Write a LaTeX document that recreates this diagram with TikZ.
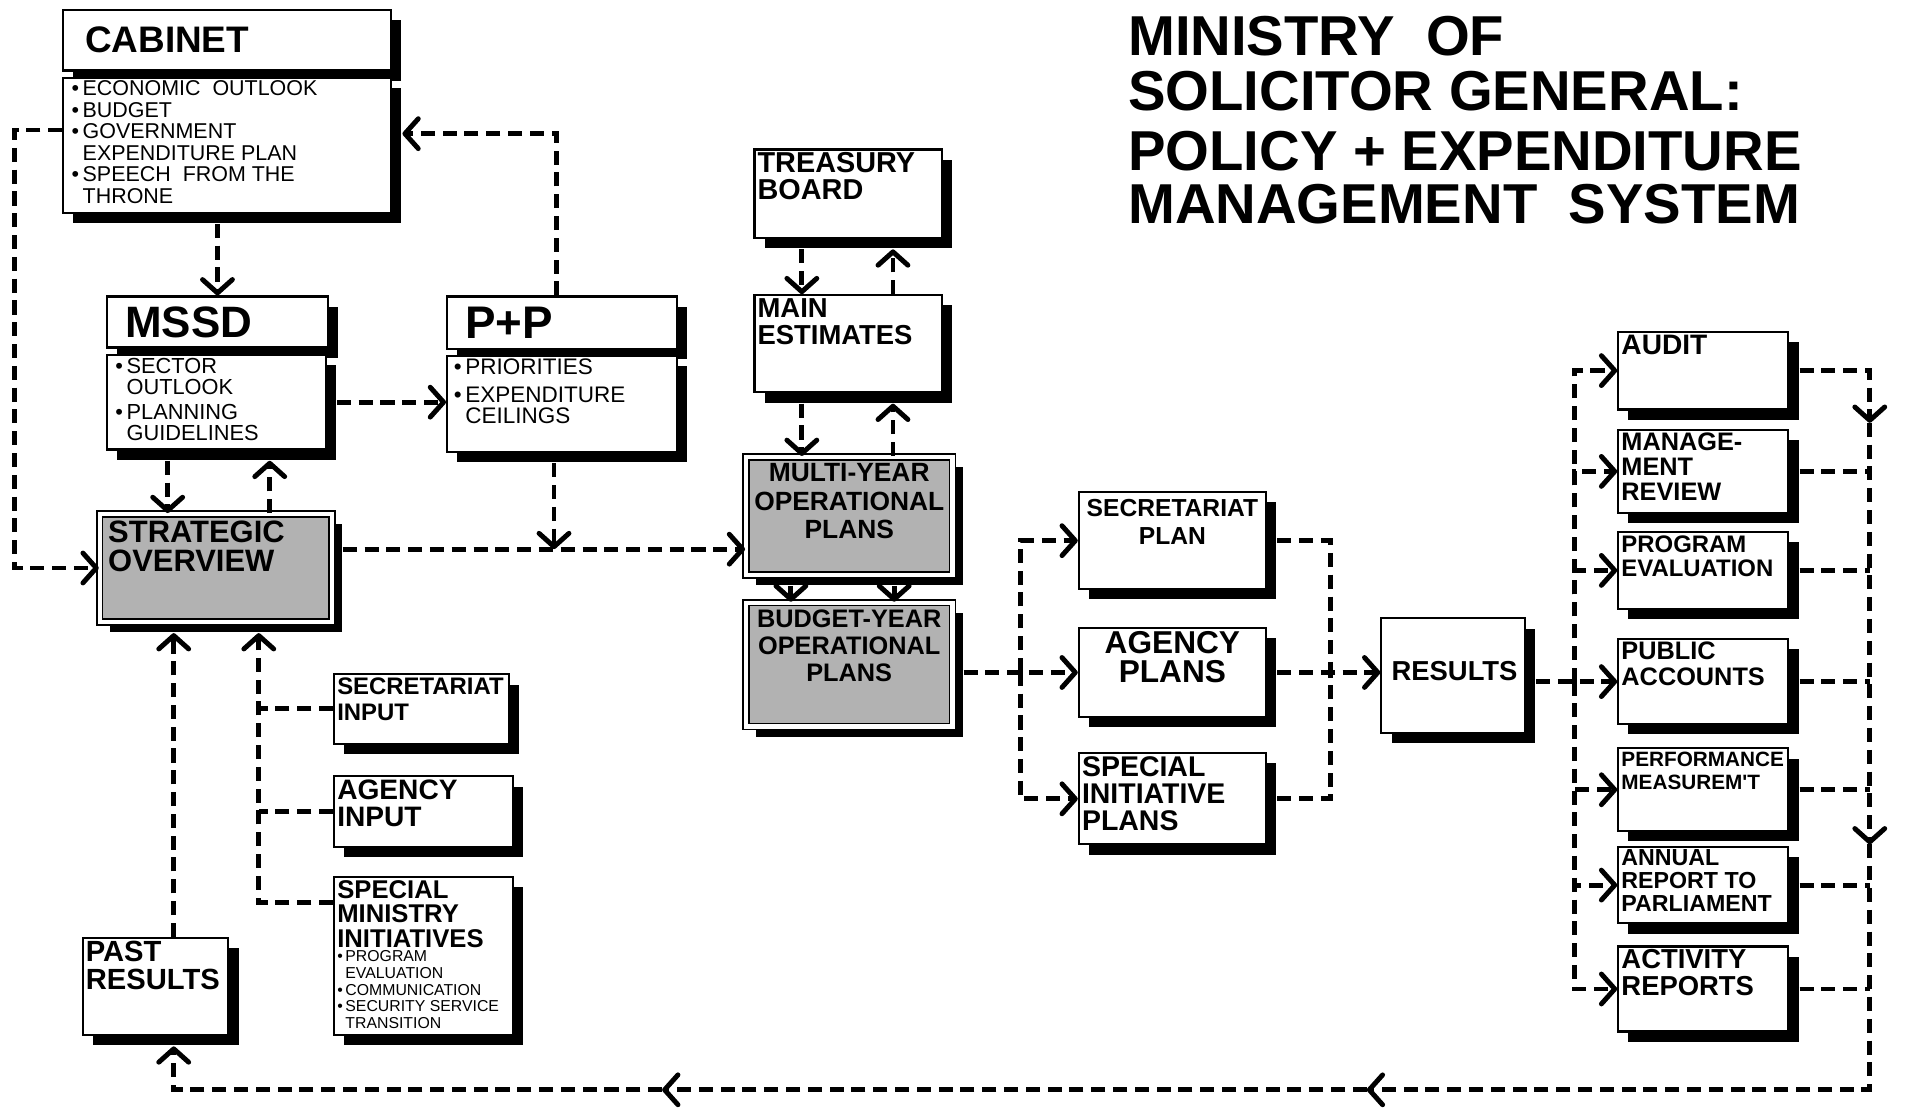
\documentclass[tikz,border=0pt]{standalone}
\usepackage{fontspec}
\newfontfamily\hand{Liberation Sans}
\usetikzlibrary{arrows.meta,shadows,fit}

\begin{document}
\begin{tikzpicture}[x=0.01215cm, y=-0.01215cm,
        box/.style={draw, line width=0.6pt, fill=white, inner sep=0pt,
            drop shadow={shadow xshift=2.9pt, shadow yshift=-2.9pt, fill=black, opacity=1}},
        grey/.style={box, fill=gray!60, line width=0.5pt, double=white, double distance=1.2pt},
        txt/.style={anchor=north west, align=left, inner sep=1pt},
        hd/.style 2 args={font=\hand\bfseries\fontsize{#1}{#2}\selectfont},
        bl/.style 2 args={font=\hand\fontsize{#1}{#2}\selectfont},
        ttl/.style={anchor=base west, inner sep=0pt, font=\hand\bfseries\fontsize{16}{16}\selectfont},
        flow/.style={line width=1.4pt, dash pattern=on 4pt off 2.2pt,
            >={Straight Barb[length=3.8pt, width=8.5pt, line width=1.4pt, round]}},
        endsh/.style={shorten >=2.9pt},
        startsh/.style={shorten <=2.9pt}]

    \useasboundingbox (0,0) rectangle (1568,915);

    % Title
    \node[ttl] (t1) at (928,46) {MINISTRY\ \ OF};
    \node[ttl] (t2) at (928,91) {SOLICITOR GENERAL:};
    \node[ttl] (t3) at (928,140) {POLICY + EXPENDITURE};
    \node[ttl] (t4) at (928,184) {MANAGEMENT\ \ SYSTEM};

    % Define boxes
    \node[box, fit={(52,8) (322,58)}] (cabh) {}; % Cabinet
    \node[box, fit={(52,64) (322,175)}] (cabb) {};
    \node[box, fit={(88,244) (270,286)}] (mssdh) {}; % MSSD
    \node[box, fit={(88,292) (268,370)}] (mssdb) {};
    \node[box, fit={(368,244) (557,287)}] (pph) {}; % P+P
    \node[box, fit={(368,293) (557,372)}] (ppb) {};
    \node[grey, fit={(82,423) (273,512)}] (strat) {};
    \node[box, fit={(275,555) (419,612)}] (secin) {};
    \node[box, fit={(275,639) (422,697)}] (agin) {};
    \node[box, fit={(275,722) (422,852)}] (smi) {};
    \node[box, fit={(68,772) (188,852)}] (past) {};
    \node[box, fit={(621,123) (775,196)}] (tb) {};
    \node[box, fit={(621,243) (775,323)}] (me) {};
    \node[grey, fit={(614,376) (784,473)}] (multi) {};
    \node[grey, fit={(614,496) (784,598)}] (bp) {};
    \node[box, fit={(888,405) (1042,485)}] (secpl) {};
    \node[box, fit={(888,517) (1042,590)}] (agpl) {};
    \node[box, fit={(888,620) (1042,695)}] (spi) {};
    \node[box, fit={(1137,509) (1255,603)}] (res) {};
    \node[box, fit={(1332,273) (1472,337)}] (audit) {};
    \node[box, fit={(1332,354) (1472,422)}] (mgmt) {};
    \node[box, fit={(1332,438) (1472,501)}] (prog) {};
    \node[box, fit={(1332,526) (1472,596)}] (pa) {};
    \node[box, fit={(1332,616) (1472,684)}] (perf) {};
    \node[box, fit={(1332,697) (1472,760)}] (annual) {};
    \node[box, fit={(1332,779) (1472,849)}] (act) {};

    % Box texts
    \node[hd={10.5}{11}, anchor=west] (cabh-t) at ([xshift=3pt]cabh.west) {CABINET};
    \node[txt, bl={6.1}{6.1}] (cabb-t) at ([xshift=1.5pt]cabb.north west)
        {\textbullet\,ECONOMIC\ \ OUTLOOK\\\textbullet\,BUDGET\\\textbullet\,GOVERNMENT\\
         \hphantom{\textbullet\,}EXPENDITURE PLAN\\\textbullet\,SPEECH\ \ FROM THE\\
         \hphantom{\textbullet\,}THRONE};
    \node[hd={12.5}{13}, anchor=west] (mssdh-t) at ([xshift=2pt]mssdh.west) {MSSD};
    \node[txt, bl={6.2}{6}] (mssdb-t) at ([xshift=1.5pt]mssdb.north west)
        {\textbullet\,SECTOR\\\hphantom{\textbullet\,}OUTLOOK\\[1.2pt]
         \textbullet\,PLANNING\\\hphantom{\textbullet\,}GUIDELINES};
    \node[hd={13}{13}, anchor=west] (pph-t) at ([xshift=2pt]pph.west) {P+P};
    \node[txt, bl={6.4}{6}] (ppb-t) at ([xshift=1pt]ppb.north west)
        {\textbullet\,PRIORITIES\\[1.8pt]\textbullet\,EXPENDITURE\\\hphantom{\textbullet\,}CEILINGS};
    \node[txt, hd={8.8}{8.4}] (strat-t) at ([xshift=1.5pt, yshift=-1pt]strat.north west) {STRATEGIC\\OVERVIEW};
    \node[txt, hd={6.8}{7.5}] (secin-t) at (secin.north west) {SECRETARIAT\\INPUT};
    \node[txt, hd={8}{7.9}] (agin-t) at (agin.north west) {AGENCY\\INPUT};
    \node[txt, hd={7.3}{7}] (smi-t) at (smi.north west) {SPECIAL\\MINISTRY\\INITIATIVES};
    \node[txt, bl={4.5}{4.7}] (smi-b) at ([yshift=1.5pt]smi-t.south west)
        {\textbullet\,PROGRAM\\\hphantom{\textbullet\,}EVALUATION\\\textbullet\,COMMUNICATION\\
         \textbullet\,SECURITY SERVICE\\\hphantom{\textbullet\,}TRANSITION};
    \node[txt, hd={8.3}{8}] (past-t) at (past.north west) {PAST\\RESULTS};
    \node[txt, hd={8.2}{7.5}] (tb-t) at (tb.north west) {TREASURY\\BOARD};
    \node[txt, hd={7.8}{7.7}] (me-t) at (me.north west) {MAIN\\ESTIMATES};
    \node[txt, hd={7.5}{8.1}, anchor=north, align=center] (multi-t) at ([yshift=-1pt]multi.north) {MULTI-YEAR\\OPERATIONAL\\PLANS};
    \node[txt, hd={7.2}{7.7}, anchor=north, align=center] (bp-t) at ([yshift=-1pt]bp.north) {BUDGET-YEAR\\OPERATIONAL\\PLANS};
    \node[txt, hd={7}{7.7}, anchor=north, align=center] (secpl-t) at ([yshift=-1.3pt]secpl.north) {SECRETARIAT\\PLAN};
    \node[txt, hd={9}{8.4}, anchor=north, align=center] (agpl-t) at (agpl.north) {AGENCY\\PLANS};
    \node[txt, hd={8.1}{7.7}] (spi-t) at (spi.north west) {SPECIAL\\INITIATIVE\\PLANS};
    \node[hd={7.8}{8}, anchor=west, inner sep=1pt] (res-t) at ([xshift=2pt, yshift=1.4pt]res.west) {RESULTS};
    \node[txt, hd={8}{7}] (audit-t) at (audit.north west) {AUDIT};
    \node[txt, hd={7.2}{7.1}] (mgmt-t) at (mgmt.north west) {MANAGE-\\MENT\\REVIEW};
    \node[txt, hd={6.8}{7.1}] (prog-t) at (prog.north west) {PROGRAM\\EVALUATION};
    \node[txt, hd={7.2}{7.3}] (pa-t) at (pa.north west) {PUBLIC\\ACCOUNTS};
    \node[txt, hd={5.9}{6.6}] (perf-t) at (perf.north west) {PERFORMANCE\\MEASUREM'T};
    \node[txt, hd={6.6}{6.5}] (annual-t) at (annual.north west) {ANNUAL\\REPORT TO\\PARLIAMENT};
    \node[txt, hd={7.8}{7.5}] (act-t) at (act.north west) {ACTIVITY\\REPORTS};

    % Bend points
    \coordinate (c1) at (12,107);
    \coordinate (c2) at (458,110);
    \coordinate (c3) at (138,0);
    \coordinate (c4) at (222,0);
    \coordinate (j1) at (456,452);
    \coordinate (c5) at (143,897);
    \coordinate (c6) at (213,743);
    \coordinate (c7) at (660,0);
    \coordinate (c8) at (735,0);
    \coordinate (c7b) at (651,0);
    \coordinate (c8b) at (736,0);
    \coordinate (c9) at (840,553);
    \coordinate (c10) at (1095,553);
    \coordinate (lb) at (1296,561);
    \coordinate (r1) at (1539,348);
    \coordinate (r2) at (1539,695);
    \coordinate (r3) at (1539,897);
    \coordinate (b1) at (1125,897);
    \coordinate (b2) at (545,897);

    % Define connectors
    \draw[flow,->] (cabb.west |- c1) -- (c1) |- (strat.west);
    \draw[flow,->,startsh] (cabb.south -| mssdh.north) -- (mssdh.north);
    \draw[flow,->,endsh] (pph.north -| c2) -- (c2) -- (cabb.east |- c2);
    \draw[flow,->,startsh] (mssdb.east) -- (ppb.west |- mssdb.east);
    \draw[flow,->,startsh] (mssdb.south -| c3) -- (strat.north -| c3);
    \draw[flow,->,endsh] (strat.north -| c4) -- (mssdb.south -| c4);
    \draw[flow,->,startsh] (ppb.south -| j1) -- (j1);
    \draw[flow,->,startsh] (strat.east |- j1) -- (multi.west |- j1);
    \draw[flow,->,endsh] (past.north -| c5) -- (strat.south -| c5);
    \draw[flow,->,endsh] (smi.west |- c6) -- (c6) -- (strat.south -| c6);
    \draw[flow] (secin.west) -- (secin.west -| c6);
    \draw[flow] (agin.west) -- (agin.west -| c6);

    \draw[flow,->,startsh] (tb.south -| c7) -- (me.north -| c7);
    \draw[flow,->,endsh] (me.north -| c8) -- (tb.south -| c8);
    \draw[flow,->,startsh] (me.south -| c7) -- (multi.north -| c7);
    \draw[flow,->,endsh] (multi.north -| c8) -- (me.south -| c8);
    \draw[flow,solid,->,startsh] (multi.south -| c7b) -- (bp.north -| c7b);
    \draw[flow,solid,->,startsh] (multi.south -| c8b) -- (bp.north -| c8b);

    \draw[flow,->,startsh] (bp.east |- agpl.west) -- (agpl.west);
    \draw[flow,->] (c9) |- (secpl.west);
    \draw[flow,->] (c9) |- (spi.west);
    \draw[flow,startsh] (secpl.east) -| (c10);
    \draw[flow,startsh] (spi.east) -| (c10);
    \draw[flow,->,startsh] (agpl.east) -- (res.west |- agpl.east);

    \draw[flow,->,startsh] (res.east |- lb) -- (pa.west);
    \foreach \bx in {audit,mgmt,prog,perf,annual,act}
        \draw[flow,->] (lb) |- (\bx.west);

    \draw[flow,->,startsh] (audit.east) -| (r1);
    \foreach \bx in {mgmt,prog,pa,perf,annual,act}
        \draw[flow,startsh] (\bx.east) -- (\bx.east -| r1);
    \draw[flow,->] (r1) -- (r2);
    \draw[flow,->] (r2) -- (r3) -- (b1);
    \draw[flow,->] (b1) -- (b2);
    \draw[flow,->,endsh] (b2) -- (c5) -- (past.south -| c5);
\end{tikzpicture}
\end{document}
